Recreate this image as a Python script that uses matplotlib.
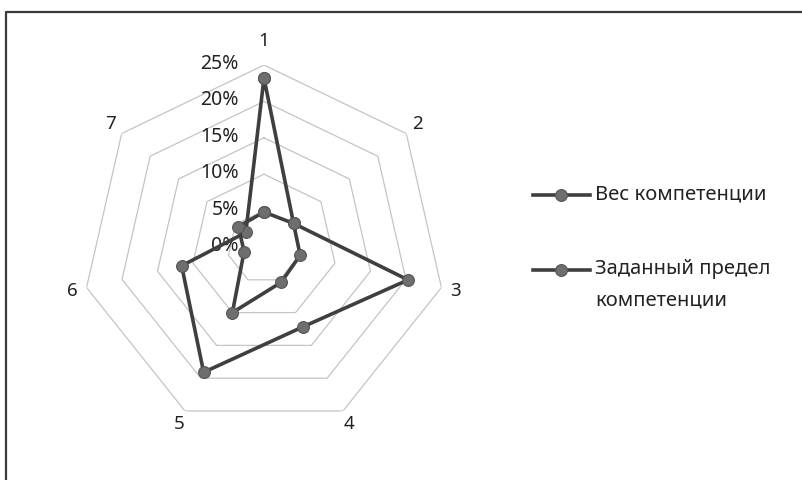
import numpy as np
import matplotlib.pyplot as plt
from matplotlib.lines import Line2D

plt.rcParams['font.family'] = ['Noto Sans', 'DejaVu Sans']
plt.rcParams['font.stretch'] = 'normal'

categories = ['1', '2', '3', '4', '5', '6', '7']
ves = [0.232, 0.052, 0.203, 0.122, 0.191, 0.116, 0.032]
predel = [0.048, 0.052, 0.051, 0.054, 0.100, 0.028, 0.045]
series_names = ['Вес компетенции', 'Заданный предел\nкомпетенции']
r_ticks = [0.0, 0.05, 0.10, 0.15, 0.20, 0.25]
r_labels = ['0%', '5%', '10%', '15%', '20%', '25%']

n = len(categories)
theta = np.arange(n) * 2 * np.pi / n
theta_c = np.append(theta, theta[0])

fig = plt.figure(figsize=(8.02, 4.8), dpi=100)
ax = fig.add_axes([0.1022, 0.10625, 0.4539, 0.7583], projection='polar')
ax.set_theta_zero_location('N')
ax.set_theta_direction(-1)
ax.set_ylim(0, 0.25)
ax.grid(False)
ax.spines['polar'].set_visible(False)
ax.set_xticks([])
ax.set_yticks([])
ax.patch.set_alpha(0)

# heptagon grid
for r in r_ticks[1:]:
    ax.plot(theta_c, [r] * (n + 1), color='#c4c4c4', lw=0.9, zorder=1)

# radial labels left of axis 1
for r, lab in zip(r_ticks, r_labels):
    ax.annotate(lab, xy=(0, r), xytext=(-25, 1), textcoords='offset pixels',
                ha='right', va='center', fontsize=14, color='#222222')

# category labels
for t, lab in zip(theta, categories):
    rr = 0.283 if lab == '1' else 0.27
    ax.text(t, rr, lab, ha='center', va='center', fontsize=13.5, color='#222222')

style = dict(color='#3f3f3f', lw=2.6, marker='o', markersize=8.5,
             markerfacecolor='#6e6e6e', markeredgecolor='#555555', markeredgewidth=0.8)
for vals, name in zip([ves, predel], series_names):
    ax.plot(theta_c, vals + vals[:1], zorder=3, **style)

# legend, drawn by hand so the marker sits on the first text line
for yy, name in zip([195, 270], series_names):
    yf = 1 - yy / 480
    fig.add_artist(Line2D([533 / 802, 561 / 802, 590 / 802], [yf] * 3,
                          transform=fig.transFigure, markevery=[1], **style))
    fig.text(595 / 802, yf + 11 / 480, name, ha='left', va='top', fontsize=14.5,
             color='#222222', linespacing=1.75, transform=fig.transFigure)

# chart frame (left and top edges)
fig.add_artist(Line2D([6 / 802, 6 / 802, 1.0], [0.0, 1 - 12 / 480, 1 - 12 / 480],
                      transform=fig.transFigure, color='#3a3a3a', lw=1.6))

fig.savefig('out.png', dpi=100)
